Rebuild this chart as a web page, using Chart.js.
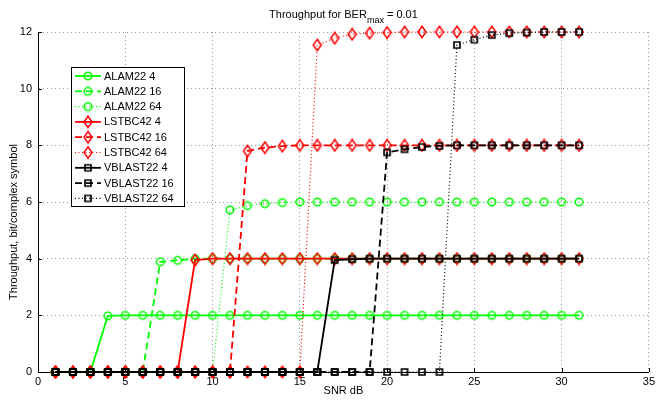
<!DOCTYPE html>
<html>
<head>
<meta charset="utf-8">
<script src="https://cdn.jsdelivr.net/npm/chart.js@4.4.0/dist/chart.umd.min.js"></script>
<style>
  html, body { margin: 0; padding: 0; background: #fff; }
</style>
</head>
<body>
<canvas id="throughput-chart" width="658" height="400"></canvas>
<script>
// SNR points (dB)
const snr = [1, 2, 3, 4, 5, 6, 7, 8, 9, 10,
             11, 12, 13, 14, 15, 16, 17, 18, 19, 20,
             21, 22, 23, 24, 25, 26, 27, 28, 29, 30,
             31];

// throughput, bit/complex symbol
const alam4 = [0, 0, 0, 1.98, 2, 2, 2, 2, 2, 2,
               2, 2, 2, 2, 2, 2, 2, 2, 2, 2,
               2, 2, 2, 2, 2, 2, 2, 2, 2, 2,
               2];
const alam16 = [0, 0, 0, 0, 0, 0, 3.89, 3.94, 4, 4,
                4, 4, 4, 4, 4, 4, 4, 4, 4, 4,
                4, 4, 4, 4, 4, 4, 4, 4, 4, 4,
                4];
const alam64 = [0, 0, 0, 0, 0, 0, 0, 0, 0, 0,
                5.72, 5.87, 5.94, 5.98, 6, 6, 6, 6, 6, 6,
                6, 6, 6, 6, 6, 6, 6, 6, 6, 6,
                6];
const lstbc4 = [0, 0, 0, 0, 0, 0, 0, 0, 3.95, 4,
                4, 4, 4, 4, 4, 4, 4, 4, 4, 4,
                4, 4, 4, 4, 4, 4, 4, 4, 4, 4,
                4];
const lstbc16 = [0, 0, 0, 0, 0, 0, 0, 0, 0, 0,
                 0, 7.8, 7.92, 7.97, 8, 8, 8, 8, 8, 8,
                 8, 8, 8, 8, 8, 8, 8, 8, 8, 8,
                 8];
const lstbc64 = [0, 0, 0, 0, 0, 0, 0, 0, 0, 0,
                 0, 0, 0, 0, 0, 11.54, 11.78, 11.92, 11.96, 11.98,
                 12, 12, 12, 12, 12, 12, 12, 12, 12, 12,
                 12];
const vblast4 = [0, 0, 0, 0, 0, 0, 0, 0, 0, 0,
                 0, 0, 0, 0, 0, 0, 3.95, 3.98, 4, 4,
                 4, 4, 4, 4, 4, 4, 4, 4, 4, 4,
                 4];
const vblast16 = [0, 0, 0, 0, 0, 0, 0, 0, 0, 0,
                  0, 0, 0, 0, 0, 0, 0, 0, 0, 7.75,
                  7.86, 7.94, 7.98, 8, 8, 8, 8, 8, 8, 8,
                  8];
const vblast64 = [0, 0, 0, 0, 0, 0, 0, 0, 0, 0,
                  0, 0, 0, 0, 0, 0, 0, 0, 0, 0,
                  0, 0, 0, 11.54, 11.73, 11.89, 11.96, 11.98, 12, 12,
                  12];

const seriesNames = ['ALAM22 4', 'ALAM22 16', 'ALAM22 64',
                     'LSTBC42 4', 'LSTBC42 16', 'LSTBC42 64',
                     'VBLAST22 4', 'VBLAST22 16', 'VBLAST22 64'];
const seriesValues = [alam4, alam16, alam64, lstbc4, lstbc16, lstbc64, vblast4, vblast16, vblast64];

const xTicks = [0, 5, 10, 15, 20, 25, 30, 35];
const yTicks = [0, 2, 4, 6, 8, 10, 12];

const FONT = '"Liberation Sans", Arial, Helvetica, sans-serif';

// marker images (open symbols)
function makeMarker(shape, color) {
  const c = document.createElement('canvas');
  c.width = 14;
  c.height = 14;
  const g = c.getContext('2d');
  g.strokeStyle = color;
  g.lineWidth = 1.5;
  g.beginPath();
  if (shape === 'circle') {
    g.arc(7, 7, 3.8, 0, Math.PI * 2);
  } else if (shape === 'diamond') {
    g.moveTo(7, 1.3);
    g.lineTo(11, 7);
    g.lineTo(7, 12.7);
    g.lineTo(3, 7);
    g.closePath();
  } else {
    g.lineWidth = 1.7;
    g.rect(4, 4, 6, 6);
  }
  g.stroke();
  return c;
}

const colors = ['#00ff00', '#ff0000', '#000000'];
const shapes = ['circle', 'diamond', 'square'];
const markers = colors.map((c, i) => makeMarker(shapes[i], c));
const lineStyles = [
  { dash: [], width: 1.8 },
  { dash: [7, 4], width: 1.8 },
  { dash: [1, 2.5], width: 1.2 }
];

const datasets = seriesNames.map((name, i) => {
  const family = Math.floor(i / 3);
  const style = lineStyles[i % 3];
  return {
    label: name,
    data: snr.map((x, k) => ({ x: x, y: seriesValues[i][k] })),
    borderColor: colors[family],
    borderWidth: style.width,
    borderDash: style.dash,
    pointStyle: markers[family],
    pointRadius: 4,
    tension: 0,
    fill: false,
    clip: false,
    order: seriesNames.length - i
  };
});

// legend box, inward tick marks, y label and title with subscript
const decorations = {
  id: 'decorations',
  afterDraw(chart) {
    const ctx = chart.ctx;
    const xs = chart.scales.x;
    const ys = chart.scales.y;
    const area = chart.chartArea;

    ctx.save();
    ctx.strokeStyle = '#000';
    ctx.lineWidth = 1;
    ctx.setLineDash([]);
    ctx.beginPath();
    yTicks.forEach(v => {
      const py = Math.round(ys.getPixelForValue(v)) + 0.5;
      ctx.moveTo(area.left, py);
      ctx.lineTo(area.left + 4, py);
    });
    xTicks.forEach(v => {
      const px = Math.round(xs.getPixelForValue(v)) + 0.5;
      ctx.moveTo(px, area.bottom);
      ctx.lineTo(px, area.bottom - 4);
    });
    ctx.stroke();

    // legend
    const box = { x: 71.5, y: 67.5, w: 113, h: 139 };
    ctx.fillStyle = '#fff';
    ctx.fillRect(box.x, box.y, box.w, box.h);
    ctx.strokeRect(box.x, box.y, box.w, box.h);
    ctx.font = '11px ' + FONT;
    ctx.textBaseline = 'middle';
    ctx.textAlign = 'left';
    chart.data.datasets.forEach((ds, i) => {
      const y = 76 + i * 15.3;
      ctx.save();
      ctx.strokeStyle = ds.borderColor;
      ctx.lineWidth = ds.borderWidth;
      ctx.setLineDash(ds.borderDash);
      ctx.beginPath();
      ctx.moveTo(75, y);
      ctx.lineTo(101, y);
      ctx.stroke();
      ctx.restore();
      const m = ds.pointStyle;
      ctx.drawImage(m, 88 - m.width / 2, y - m.height / 2);
      ctx.fillStyle = '#000';
      ctx.fillText(ds.label, 104, y + 0.5);
    });

    // y axis label
    ctx.save();
    ctx.translate(14, 222);
    ctx.rotate(-Math.PI / 2);
    ctx.font = '11px ' + FONT;
    ctx.textAlign = 'center';
    ctx.textBaseline = 'middle';
    ctx.fillStyle = '#000';
    ctx.fillText('Throughput, bit/complex symbol', 0, 0);
    ctx.restore();

    // title: Throughput for BER_max = 0.01
    const mainFont = '11px ' + FONT;
    const subFont = '9px ' + FONT;
    const parts = [
      { t: 'Throughput for BER', f: mainFont, dy: 0 },
      { t: 'max', f: subFont, dy: 5 },
      { t: ' = 0.01', f: mainFont, dy: 0 }
    ];
    let total = 0;
    parts.forEach(p => { ctx.font = p.f; p.w = ctx.measureText(p.t).width; total += p.w; });
    let tx = (area.left + area.right) / 2 - total / 2;
    ctx.textBaseline = 'alphabetic';
    ctx.textAlign = 'left';
    ctx.fillStyle = '#000';
    parts.forEach(p => {
      ctx.font = p.f;
      ctx.fillText(p.t, tx, 18 + p.dy);
      tx += p.w;
    });
    ctx.restore();
  }
};

new Chart(document.getElementById('throughput-chart'), {
  type: 'line',
  data: { datasets: datasets },
  options: {
    responsive: false,
    animation: false,
    events: [],
    layout: {
      padding: { top: 32, right: 6, bottom: 0, left: 0 },
      autoPadding: false
    },
    plugins: {
      legend: { display: false },
      tooltip: { enabled: false },
      title: { display: false }
    },
    scales: {
      x: {
        type: 'linear',
        min: 0,
        max: 35,
        afterFit(scale) { scale.height = 28; },
        afterBuildTicks(scale) { scale.ticks = xTicks.map(v => ({ value: v })); },
        ticks: { color: '#000', font: { family: FONT, size: 11 }, padding: 3, maxRotation: 0 },
        grid: { color: '#9a9a9a', lineWidth: 1, drawTicks: false },
        border: { display: true, color: '#000', width: 1, dash: [1, 3] },
        title: {
          display: true,
          text: 'SNR dB',
          color: '#000',
          font: { family: FONT, size: 11 },
          padding: { top: 0, bottom: 2 }
        }
      },
      y: {
        type: 'linear',
        min: 0,
        max: 12,
        afterFit(scale) { scale.width = 38; },
        afterBuildTicks(scale) { scale.ticks = yTicks.map(v => ({ value: v })); },
        ticks: { color: '#000', font: { family: FONT, size: 11 }, padding: 6 },
        grid: { color: '#9a9a9a', lineWidth: 1, drawTicks: false },
        border: { display: true, color: '#000', width: 1, dash: [1, 3] }
      }
    }
  },
  plugins: [decorations]
});
</script>
</body>
</html>
